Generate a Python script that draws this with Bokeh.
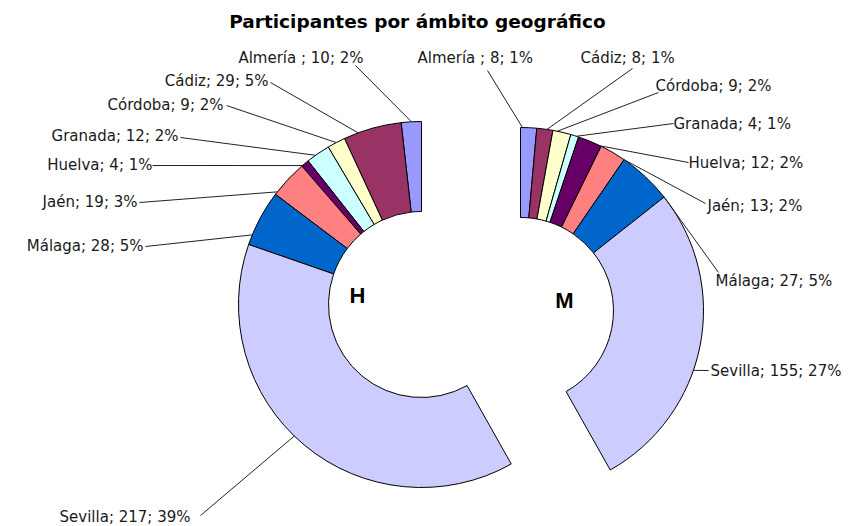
import math
from bokeh.plotting import figure
from bokeh.models import Range1d, ColumnDataSource
from bokeh.core.properties import value
from bokeh.embed import file_html
from bokeh.resources import INLINE

# ---------------- data ----------------
titulo = "Participantes por ámbito geográfico"
provincias = ["Almería ", "Cádiz", "Córdoba", "Granada", "Huelva", "Jaén", "Málaga", "Sevilla"]
grupos = ["H", "M"]
valores_h = [10, 29, 9, 12, 4, 19, 28, 217]
valores_m = [8, 8, 9, 4, 12, 13, 27, 155]
pct_h = [2, 5, 2, 2, 1, 3, 5, 39]
pct_m = [1, 1, 2, 1, 2, 2, 5, 27]
colores = ["#9999FF", "#993366", "#FFFFCC", "#CCFFFF", "#660066", "#FF8080", "#0066CC", "#CCCCFF"]

# ---------------- layout ----------------
W, H = 855, 526
def sx(X):  # page pixel -> data x
    return X
def sy(Y):  # page pixel -> data y
    return H - Y

R_OUT, R_IN = 183, 93
centro_h = (421, 304)
centro_m = (520, 310)

# label anchor (page px), alignment, leader start (page px), leader position within slice
lab_h = [
    (363, 57, "right", (355, 65), 0.49),
    (268, 80, "right", (270, 82), 0.75),
    (223, 104, "right", (226, 105), 0.5),
    (178, 135, "right", (180, 137), 0.62),
    (152, 164, "right", (152, 165), 0.9),
    (137, 201, "right", (139, 202), 0.92),
    (143, 245, "right", (145, 246), 0.82),
    (190, 516, "right", (200, 515), 0.47),
]
lab_m = [
    (417, 57, "left", (487, 70), 0.12),
    (580, 57, "left", (632, 68), 0.63),
    (655, 85, "left", (658, 92), 0.24),
    (673, 123, "left", (673, 123), 0.72),
    (688, 162, "left", (688, 162), 0.97),
    (707, 205, "left", (705, 203), 1.0),
    (715, 280, "left", (718, 272), 1.0),
    (710, 370, "left", (708, 370), 0.58),
]

p = figure(width=W, height=H, output_backend="svg", toolbar_location=None,
           x_range=Range1d(0, W), y_range=Range1d(0, H), min_border=0,
           background_fill_color="white", border_fill_color="white")
p.axis.visible = False
p.grid.visible = False
p.outline_line_color = None

total = sum(valores_h) + sum(valores_m)
font = value("DejaVu Sans")

def dibujar(valores, pcts, centro, labs, sentido):
    cx, cy = sx(centro[0]), sy(centro[1])
    cum = 0
    starts, ends = [], []
    lx0, ly0, lx1, ly1 = [], [], [], []
    tx, ty, tt, ta = [], [], [], []
    for i, v in enumerate(valores):
        a_before = 2 * math.pi * cum / total
        cum += v
        a_after = 2 * math.pi * cum / total
        if sentido > 0:  # counter-clockwise from top
            s, e = math.pi / 2 + a_before, math.pi / 2 + a_after
            frac_ang = math.pi / 2 + a_before + labs[i][4] * (a_after - a_before)
        else:  # clockwise from top
            s, e = math.pi / 2 - a_after, math.pi / 2 - a_before
            frac_ang = math.pi / 2 - a_before - labs[i][4] * (a_after - a_before)
        starts.append(s)
        ends.append(e)
        X, Y, al, (lsX, lsY), _ = labs[i]
        lx0.append(sx(lsX)); ly0.append(sy(lsY))
        lx1.append(cx + R_OUT * math.cos(frac_ang)); ly1.append(cy + R_OUT * math.sin(frac_ang))
        tx.append(sx(X)); ty.append(sy(Y)); ta.append(al)
        tt.append(f"{provincias[i]}; {v}; {pcts[i]}%")
    src = ColumnDataSource(dict(start=starts, end=ends, color=colores))
    p.annular_wedge(x=cx, y=cy, inner_radius=R_IN, outer_radius=R_OUT,
                    start_angle="start", end_angle="end", fill_color="color",
                    line_color="black", line_width=1, source=src)
    p.segment(x0=lx0, y0=ly0, x1=lx1, y1=ly1, line_color="#222222", line_width=1)
    tsrc = ColumnDataSource(dict(x=tx, y=ty, text=tt, align=ta))
    p.text(x="x", y="y", text="text", text_align="align", text_baseline="middle",
           text_font=font, text_font_size="15px", text_color="#1a1a1a", source=tsrc)

dibujar(valores_h, pct_h, centro_h, lab_h, +1)
dibujar(valores_m, pct_m, centro_m, lab_m, -1)

# group letters inside the holes
p.text(x=[sx(357), sx(564)], y=[sy(295), sy(300)], text=grupos,
       text_align="center", text_baseline="middle", text_font=value("Liberation Sans"),
       text_font_style="bold", text_font_size="22px", text_color="black")

# title
p.text(x=[sx(417)], y=[sy(21)], text=[titulo], text_align="center", text_baseline="middle",
       text_font=font, text_font_style="bold", text_font_size="18.5px", text_color="black")

open("out.html", "w").write(file_html(p, INLINE))
